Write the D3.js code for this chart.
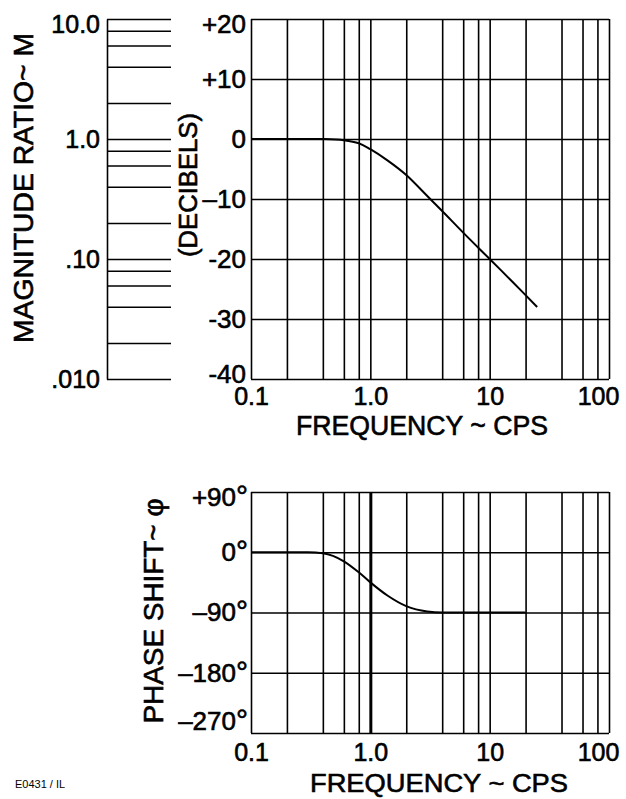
<!DOCTYPE html>
<html>
<head>
<meta charset="utf-8">
<script src="https://cdn.jsdelivr.net/npm/d3@7"></script>
<style>
  body { margin: 0; background: #fff; }
  svg { display: block; }
  text { font-family: "Liberation Sans", Arial, sans-serif; fill: #000; }
  .heavy { stroke: #000; stroke-width: 0.6px; }
</style>
</head>
<body>
<script>
var w = 626;
var h = 799;

// frequency axis (cps), shared by both charts
var freqTicks = [0.1, 1, 10, 100];
var freqTickLabels = ["0.1", "1.0", "10", "100"];
var freqGrid = [0.2, 0.4, 0.6, 0.8, 2, 4, 6, 8, 20, 40, 60, 80];

// decibel scale
var dbTicks = [20, 10, 0, -10, -20, -30, -40];
var dbTickLabels = ["+20", "+10", "0", "\u201310", "-20", "-30", "-40"];

// magnitude ratio scale
var ratioLines = [10, 8, 6, 4, 2, 1, 0.8, 0.6, 0.4, 0.2, 0.1, 0.08, 0.06, 0.04, 0.02, 0.01];
var ratioTicks = [10, 1, 0.1, 0.01];
var ratioTickLabels = ["10.0", "1.0", ".10", ".010"];

// phase scale
var phaseTicks = [90, 0, -90, -180, -270];
var phaseTickLabels = ["+90", "0", "\u201390", "\u2013180", "\u2013270"];

// magnitude curve
var magFreq = [0.1, 0.2, 0.4, 0.6, 0.8, 1.0, 1.4, 2.0, 3.0, 4.0, 6.0, 10, 15, 25];
var magDb   = [0, 0, 0, -0.2, -0.7, -1.7, -3.6, -6.0, -9.5, -12.0, -15.6, -20.0, -23.5, -28.0];

// phase curve
var phaseFreq = [0.1, 0.2, 0.3, 0.4, 0.6, 0.8, 1.0, 1.4, 2.0, 3.0, 4.0, 6.0, 10, 20];
var phaseDeg  = [0, 0, 0, -1.5, -13.5, -30, -45, -65, -80.5, -88.5, -90, -90, -90, -90];

var svg = d3.select("body").append("svg").attr("width", w).attr("height", h);

var x1 = d3.scaleLog().domain([0.1, 100]).range([251, 609]);
var yDb = d3.scaleLinear().domain([-40, 20]).range([379, 19]);
var yRatio = d3.scaleLog().domain([0.01, 10]).range([379, 19]);

var x2 = d3.scaleLog().domain([0.1, 100]).range([251, 609]);
var yPh = d3.scaleLinear().domain([-270, 90]).range([733, 492]);

function styleAxis(g, size) {
    g.attr("font-family", null).attr("font-size", null);
    g.selectAll(".tick line").attr("stroke", "#000").attr("stroke-width", 1.6);
    g.selectAll(".tick text").style("font-size", size + "px").attr("fill", "#000").attr("class", "heavy");
    g.select(".domain").remove();
}

function clampLabels(g, scale, top, bottom) {
    g.selectAll(".tick text").attr("y", function (d) {
        var p = scale(d);
        return Math.max(0, top + 5 - p) + Math.min(0, bottom - 5 - p);
    });
}

// ---- top chart: gain in decibels ----
var allFreq = freqGrid.concat(freqTicks);

var vGrid1 = svg.append("g")
    .attr("transform", "translate(0," + yDb(-40) + ")")
    .call(d3.axisBottom(x1).tickValues(allFreq).tickSize(-(yDb(-40) - yDb(20))).tickPadding(8)
        .tickFormat(function (d) {
            var i = freqTicks.indexOf(d);
            return i < 0 ? "" : freqTickLabels[i];
        }));
styleAxis(vGrid1, 25);
vGrid1.selectAll(".tick text").filter(function (d) { return d === 100; }).attr("x", -11);

var hGrid1 = svg.append("g")
    .attr("transform", "translate(" + x1(0.1) + ",0)")
    .call(d3.axisLeft(yDb).tickValues(dbTicks).tickSize(-(x1(100) - x1(0.1))).tickPadding(5)
        .tickFormat(function (d, i) { return dbTickLabels[i]; }));
styleAxis(hGrid1, 26);
clampLabels(hGrid1, yDb, 19, 379);

// magnitude ratio ladder
var ratioG = svg.append("g")
    .attr("transform", "translate(107,0)")
    .call(d3.axisRight(yRatio).tickValues(ratioLines).tickSize(64).tickSizeOuter(0).tickFormat(""));
ratioG.attr("font-family", null).attr("font-size", null);
ratioG.selectAll(".tick line").attr("stroke", "#000").attr("stroke-width", 1.5);
ratioG.select(".domain").attr("stroke", "#000").attr("stroke-width", 1.6);

var ratioLab = svg.append("g")
    .attr("transform", "translate(107,0)")
    .call(d3.axisLeft(yRatio).tickValues(ratioTicks).tickSize(0).tickPadding(7)
        .tickFormat(function (d, i) { return ratioTickLabels[i]; }));
styleAxis(ratioLab, 25);
clampLabels(ratioLab, yRatio, 19, 1000);

var magLine = d3.line()
    .x(function (d) { return x1(d[0]); })
    .y(function (d) { return yDb(d[1]); })
    .curve(d3.curveCatmullRom.alpha(0.5));

svg.append("path")
    .datum(d3.zip(magFreq, magDb))
    .attr("d", magLine)
    .attr("fill", "none")
    .attr("stroke", "#000")
    .attr("stroke-width", 2);

// ---- bottom chart: phase ----
var vGrid2 = svg.append("g")
    .attr("transform", "translate(0," + yPh(-270) + ")")
    .call(d3.axisBottom(x2).tickValues(allFreq).tickSize(-(yPh(-270) - yPh(90))).tickPadding(10)
        .tickFormat(function (d) {
            var i = freqTicks.indexOf(d);
            return i < 0 ? "" : freqTickLabels[i];
        }));
styleAxis(vGrid2, 25);
vGrid2.selectAll(".tick text").filter(function (d) { return d === 100; }).attr("x", -11);
vGrid2.selectAll(".tick line").filter(function (d) { return d === 1; }).attr("stroke-width", 3);

var hGrid2 = svg.append("g")
    .attr("transform", "translate(" + x2(0.1) + ",0)")
    .call(d3.axisLeft(yPh).tickValues(phaseTicks).tickSize(-(x2(100) - x2(0.1))).tickPadding(3)
        .tickFormat(function (d, i) { return phaseTickLabels[i]; }));
styleAxis(hGrid2, 26);
clampLabels(hGrid2, yPh, 492, 726);
// big raised degree marks as in the lettering
hGrid2.selectAll(".tick text").append("tspan")
    .style("font-size", "30px")
    .text("\u00b0");

var phLine = d3.line()
    .x(function (d) { return x2(d[0]); })
    .y(function (d) { return yPh(d[1]); })
    .curve(d3.curveMonotoneX);

svg.append("path")
    .datum(d3.zip(phaseFreq, phaseDeg))
    .attr("d", phLine)
    .attr("fill", "none")
    .attr("stroke", "#000")
    .attr("stroke-width", 2);

// ---- titles ----
function vTitle(txt, cx, cy, len, size) {
    svg.append("text")
        .attr("class", "heavy")
        .attr("transform", "translate(" + cx + "," + cy + ") rotate(-90)")
        .attr("text-anchor", "middle")
        .attr("dy", "0.36em")
        .attr("textLength", len)
        .attr("lengthAdjust", "spacingAndGlyphs")
        .style("font-size", size + "px")
        .text(txt);
}
vTitle("MAGNITUDE  RATIO~ M", 23, 188, 310, 27);
vTitle("(DECIBELS)", 188, 185, 144, 25);
vTitle("PHASE  SHIFT~ \u03c6", 153, 611, 225, 27);

function hTitle(txt, cx, base, len, size) {
    svg.append("text")
        .attr("class", "heavy")
        .attr("x", cx)
        .attr("y", base)
        .attr("text-anchor", "middle")
        .attr("textLength", len)
        .attr("lengthAdjust", "spacingAndGlyphs")
        .style("font-size", size + "px")
        .text(txt);
}
hTitle("FREQUENCY ~ CPS", 422, 435, 252, 27);
hTitle("FREQUENCY  ~  CPS", 439, 792, 258, 26);

svg.append("text")
    .attr("x", 15)
    .attr("y", 788)
    .style("font-size", "11px")
    .attr("fill", "#333")
    .text("E0431 / IL");
</script>
</body>
</html>
